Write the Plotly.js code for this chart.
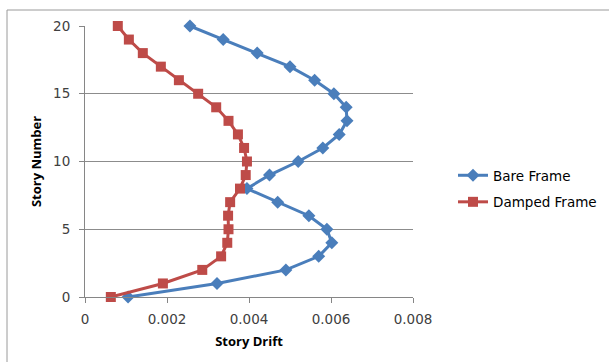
<!DOCTYPE html>
<html>
<head>
<meta charset="utf-8">
<script src="https://cdn.plot.ly/plotly-3.0.1.min.js"></script>
<style>
  html, body { margin: 0; padding: 0; background: #ffffff; }
  #chart { width: 609px; height: 362px; }
</style>
</head>
<body>
<div id="chart"></div>
<script>
// Story numbers (vertical axis) and inter-story drift ratios for each frame
const stories = [0, 1, 2, 3, 4, 5, 6, 7, 8, 9, 10, 11, 12, 13, 14, 15, 16, 17, 18, 19, 20];
const bareFrameDrift = [0.00105, 0.00322, 0.0049, 0.0057, 0.00602, 0.0059, 0.00546, 0.0047, 0.00395, 0.0045,
                        0.0052, 0.0058, 0.0062, 0.00639, 0.00637, 0.00607, 0.0056, 0.0050, 0.0042, 0.00337, 0.00256];
const dampedFrameDrift = [0.00063, 0.0019, 0.00286, 0.00332, 0.00347, 0.0035, 0.00349, 0.00354, 0.00378, 0.00392,
                          0.00395, 0.00388, 0.00373, 0.0035, 0.0032, 0.00276, 0.00229, 0.00185, 0.00141, 0.00107, 0.0008];
const xTicks = [0, 0.002, 0.004, 0.006, 0.008];
const xTickLabels = ['0', '0.002', '0.004', '0.006', '0.008'];
const yTicks = [0, 5, 10, 15, 20];

const W = 609, H = 362;
const M = { l: 85, r: 196, t: 26, b: 65 };
const plotW = W - M.l - M.r, plotH = H - M.t - M.b;
// convert page pixels to paper coordinates for the surrounding frame
const px = x => (x - M.l) / plotW;
const py = y => (H - M.b - y) / plotH;

const traces = [
  {
    name: 'Bare Frame', legendgroup: 'bare',
    x: bareFrameDrift, y: stories,
    mode: 'lines+markers', type: 'scatter', cliponaxis: false,
    line: { color: '#4a7ebb', width: 3 },
    marker: { symbol: 'diamond', size: 10, color: '#4a7ebb' }
  },
  {
    name: 'Damped Frame', legendgroup: 'damped',
    x: dampedFrameDrift, y: stories,
    mode: 'lines+markers', type: 'scatter', cliponaxis: false,
    line: { color: '#be4b48', width: 3 },
    marker: { symbol: 'square', size: 10, color: '#be4b48' }
  }
];

const tickFont = { family: 'DejaVu Sans, sans-serif', size: 13.5, color: '#404040' };
const titleFont = { family: 'Open Sans, sans-serif', size: 13, color: '#000000', weight: 'bold' };

const layout = {
  width: W, height: H,
  margin: M,
  paper_bgcolor: '#ffffff', plot_bgcolor: '#ffffff',
  showlegend: true,
  legend: {
    xref: 'container', yref: 'container',
    x: 453 / W, y: 1 - 160 / H, xanchor: 'left', yanchor: 'top',
    font: { family: 'DejaVu Sans, sans-serif', size: 13.5, color: '#000000' },
    itemwidth: 30, tracegroupgap: 6, bgcolor: 'rgba(0,0,0,0)'
  },
  xaxis: {
    range: [0, 0.008], tickvals: xTicks, ticktext: xTickLabels,
    showgrid: false, zeroline: false,
    showline: true, linecolor: '#868686', linewidth: 1,
    ticks: 'outside', ticklen: 5, tickcolor: '#868686',
    ticklabelstandoff: 5,
    tickfont: tickFont,
    title: { text: 'Story Drift', font: titleFont, standoff: 10 }
  },
  yaxis: {
    range: [0, 20], tickvals: yTicks,
    showgrid: true, gridcolor: '#8c8c8c', gridwidth: 1, zeroline: false,
    showline: true, linecolor: '#868686', linewidth: 1,
    ticks: 'outside', ticklen: 5, tickcolor: '#868686',
    ticklabelstandoff: 6,
    tickfont: tickFont,
    title: { text: 'Story Number', font: titleFont, standoff: 8 }
  },
  shapes: [
    { type: 'line', xref: 'paper', yref: 'paper', x0: px(7), x1: px(W + 2), y0: py(10), y1: py(10),
      line: { color: '#9a9a9a', width: 1 } },
    { type: 'line', xref: 'paper', yref: 'paper', x0: px(7), x1: px(7), y0: py(10), y1: py(H + 2),
      line: { color: '#9a9a9a', width: 1 } }
  ]
};

Plotly.newPlot('chart', traces, layout, { displayModeBar: false, staticPlot: true });
</script>
</body>
</html>
